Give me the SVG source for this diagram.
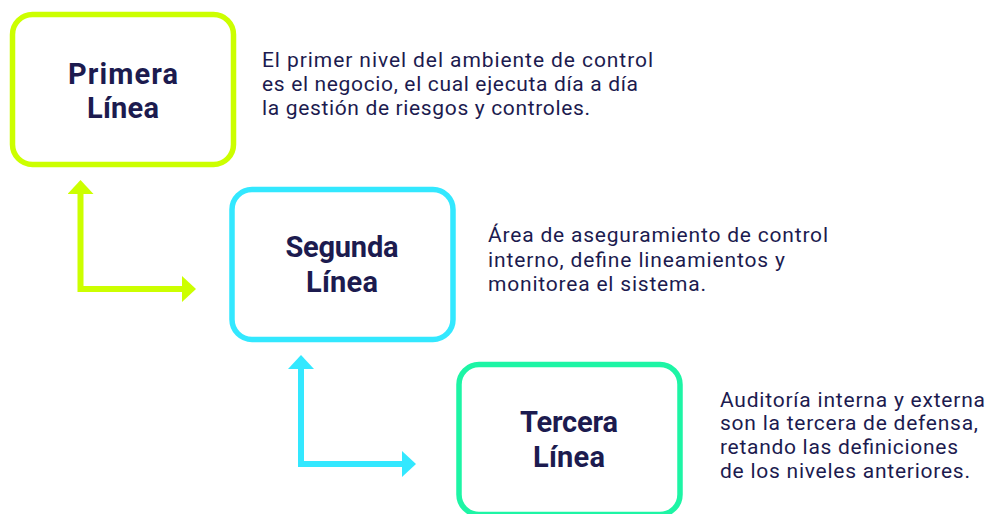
<svg xmlns="http://www.w3.org/2000/svg" width="988" height="514" viewBox="0 0 988 514">
<style>
.box{fill:#ffffff;stroke-width:5.5}
.title{font-family:Roboto,"Liberation Sans",sans-serif;font-weight:700;font-size:29px;fill:#1c1b4f;text-anchor:middle}
.body{font-family:Roboto,"Liberation Sans",sans-serif;font-size:21px;fill:#1c1b4f}
.conn{fill:none;stroke-width:6}
</style>
<defs>
<marker id="hG" markerUnits="userSpaceOnUse" markerWidth="16" markerHeight="28" refX="0" refY="13" orient="auto-start-reverse"><path d="M0,0 L14,13 L0,26 z" fill="#ccff00"/></marker>
<marker id="hC" markerUnits="userSpaceOnUse" markerWidth="16" markerHeight="28" refX="0" refY="13" orient="auto-start-reverse"><path d="M0,0 L14,13 L0,26 z" fill="#33e8ff"/></marker>
</defs>
<rect width="988" height="514" fill="#ffffff"/>
<g id="connectors">
<path class="conn" stroke="#ccff00" d="M80.5,194 V289 H182" marker-start="url(#hG)" marker-end="url(#hG)"/>
<path class="conn" stroke="#33e8ff" d="M301,369 V464 H402" marker-start="url(#hC)" marker-end="url(#hC)"/>
</g>
<g id="primera">
<rect class="box" stroke="#ccff00" x="12.5" y="14.5" width="221" height="150" rx="20"/>
<text class="title" x="123" y="84" textLength="110">Primera</text>
<text class="title" x="123" y="118" textLength="72">Línea</text>
</g>
<g id="segunda">
<rect class="box" stroke="#33e8ff" x="232" y="189.5" width="221" height="150" rx="20"/>
<text class="title" x="342" y="257" textLength="113">Segunda</text>
<text class="title" x="342" y="292" textLength="72">Línea</text>
</g>
<g id="tercera">
<rect class="box" stroke="#1df5a5" x="459" y="364.5" width="221" height="150" rx="20"/>
<text class="title" x="569" y="432" textLength="98">Tercera</text>
<text class="title" x="569" y="467" textLength="72">Línea</text>
</g>
<g id="texto-primera">
<text class="body" x="262" y="67" textLength="391">El primer nivel del ambiente de control</text>
<text class="body" x="262" y="91" textLength="376">es el negocio, el cual ejecuta día a día</text>
<text class="body" x="262" y="115" textLength="328">la gestión de riesgos y controles.</text>
</g>
<g id="texto-segunda">
<text class="body" x="488" y="242" textLength="340">Área de aseguramiento de control</text>
<text class="body" x="488" y="267" textLength="297">interno, define lineamientos y</text>
<text class="body" x="488" y="291" textLength="218">monitorea el sistema.</text>
</g>
<g id="texto-tercera">
<text class="body" x="720" y="407" textLength="265">Auditoría interna y externa</text>
<text class="body" x="720" y="430" textLength="258">son la tercera de defensa,</text>
<text class="body" x="720" y="454" textLength="238">retando las definiciones</text>
<text class="body" x="720" y="478" textLength="250">de los niveles anteriores.</text>
</g>
</svg>
